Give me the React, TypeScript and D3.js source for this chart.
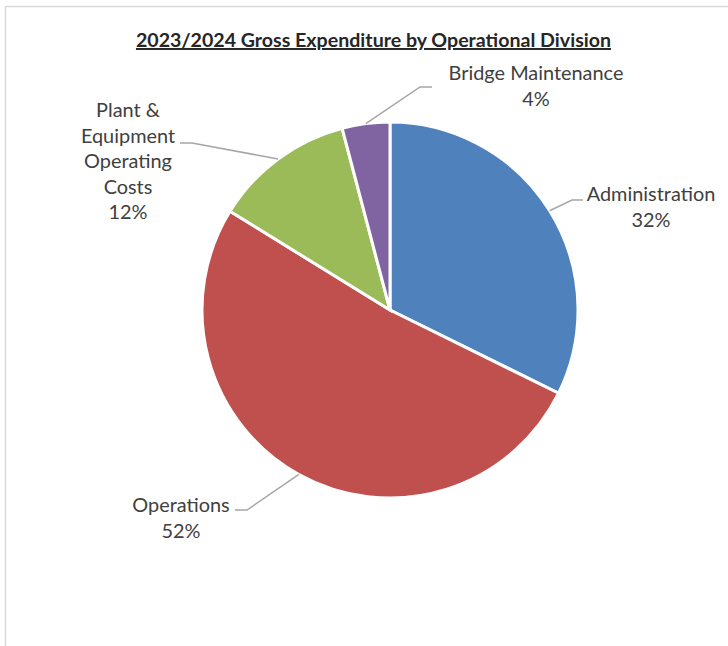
import { useMemo } from "react";
import * as d3 from "d3";

const categories = [
  "Administration",
  "Operations",
  "Plant & Equipment Operating Costs",
  "Bridge Maintenance",
];
const values = [32.3, 51.5, 12.1, 4.1];
const colors = ["#4F81BD", "#C0504D", "#9BBB59", "#8064A2"];
// label lines as drawn (text wrapped by hand)
const labelLines = [
  ["Administration", "32%"],
  ["Operations", "52%"],
  ["Plant &", "Equipment", "Operating", "Costs", "12%"],
  ["Bridge Maintenance", "4%"],
];

const W = 728;
const H = 646;
const cx = 390;
const cy = 310;
const radius = 188;
const FONT = "Lato, 'Liberation Sans', sans-serif";

// label block placement: centre x, first baseline y, elbow x, elbow y, end of leader
const labelLayout = [
  { x: 651, y: 201, ex: 572, ey: 200, end: 583 },
  { x: 181, y: 512, ex: 247, ey: 510, end: 235 },
  { x: 128, y: 117, ex: 192, ey: 143, end: 180 },
  { x: 536, y: 80, ex: 420, ey: 87, end: 432 },
];

export default function App() {
  const arcs = useMemo(
    () =>
      d3
        .pie<number>()
        .sort(null)
        .value((d) => d)(values),
    []
  );
  const arc = d3.arc<d3.PieArcDatum<number>>().innerRadius(0).outerRadius(radius);
  const edge = d3.arc<d3.PieArcDatum<number>>().innerRadius(radius).outerRadius(radius);

  return (
    <svg
      width={W}
      height={H}
      style={{ position: "absolute", left: 0, top: 0, background: "#fff" }}
    >
      <rect x={5.5} y={6.5} width={W + 20} height={H + 20} fill="#fff" stroke="#d9d9d9" strokeWidth={1.5} />
      <text
        x={373.5}
        y={47}
        textAnchor="middle"
        fontFamily={FONT}
        fontWeight="bold"
        fontSize={19.6}
        fill="#262626"
        textDecoration="underline"
      >
        2023/2024 Gross Expenditure by Operational Division
      </text>
      <g transform={`translate(${cx},${cy})`}>
        {arcs.map((a, i) => (
          <path key={categories[i]} d={arc(a) || ""} fill={colors[i]} stroke="#fff" strokeWidth={3} />
        ))}
      </g>
      {arcs.map((a, i) => {
        const [px, py] = edge.centroid(a);
        const L = labelLayout[i];
        return (
          <g key={"lab" + i}>
            <polyline
              points={`${cx + px},${cy + py} ${L.ex},${L.ey} ${L.end},${L.ey}`}
              fill="none"
              stroke="#a6a6a6"
              strokeWidth={1.5}
            />
            <text textAnchor="middle" fontFamily={FONT} fontSize={19.9} fill="#404040">
              {labelLines[i].map((t, j) => (
                <tspan key={j} x={L.x} y={L.y + j * 25.5}>
                  {t}
                </tspan>
              ))}
            </text>
          </g>
        );
      })}
    </svg>
  );
}
